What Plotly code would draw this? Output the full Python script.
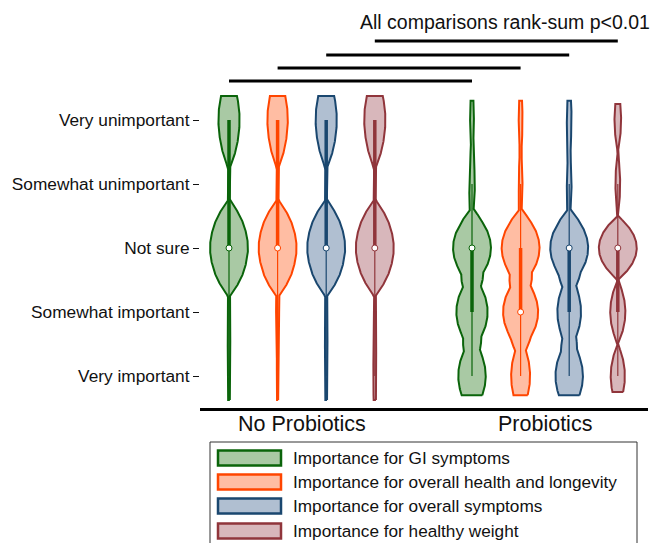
import numpy as np
import plotly.graph_objects as go

# ---------------- data ----------------
levels = [1, 2, 3, 4, 5]
level_labels = ["Very important", "Somewhat important", "Not sure",
                "Somewhat unimportant", "Very unimportant"]
groups = ["No Probiotics", "Probiotics"]
series = ["Importance for GI symptoms",
          "Importance for overall health and longevity",
          "Importance for overall symptoms",
          "Importance for healthy weight"]

# relative response counts per level (Very important .. Very unimportant)
no_gi = [3, 3, 50, 2, 28]
no_health = [2, 4, 50, 2, 27]
no_symptoms = [3, 3, 50, 2, 28]
no_weight = [4, 2, 50, 2, 28]
pro_gi = [29, 33, 40, 6, 4]
pro_health = [20, 37, 40, 4, 4]
pro_symptoms = [29, 25, 40, 5, 5]
pro_weight = [15, 16, 40, 5, 7]

# kernel half-widths (in level units) per violin
bandwidth_no = [0.75, 0.75, 0.75, 0.75]
bandwidth_pro = [0.6, 0.6, 0.6, 0.5]

# box statistics shown in the picture
median_no = [3, 3, 3, 3]
q1_no = [3, 3, 3, 3]
q3_no = [5, 5, 5, 5]
whisk_lo_no = [1, 1, 1, 1]
whisk_hi_no = [5, 5, 5, 5]
median_pro = [3, 2, 3, 3]
q1_pro = [2, 2, 2, 2]
q3_pro = [3, 3, 3, 3]
whisk_lo_pro = [1, 1, 1, 1]
whisk_hi_pro = [4, 4, 4, 4]

# ---------------- styles ----------------
line_colors = ["#0a640a", "#ff4500", "#1a476f", "#90353b"]
fill_colors = ["#a9c9a4", "#ffbda3", "#b0bfd1", "#d8b7bb"]
FONT = "Liberation Sans, Arial, sans-serif"
MAX_HALF = 0.39

group_counts = [[no_gi, no_health, no_symptoms, no_weight],
                [pro_gi, pro_health, pro_symptoms, pro_weight]]
group_bw = [bandwidth_no, bandwidth_pro]
group_stats = [(median_no, q1_no, q3_no, whisk_lo_no, whisk_hi_no),
               (median_pro, q1_pro, q3_pro, whisk_lo_pro, whisk_hi_pro)]


def epan(u):
    return np.where(np.abs(u) < 1, 0.75 * (1 - u ** 2), 0.0)


fig = go.Figure()
positions = {}
for g in range(2):
    for s in range(4):
        pos = g * 5 + s + 1
        positions[(g, s)] = pos
        c = np.array(group_counts[g][s], float)
        h = group_bw[g][s]
        lv = np.array(levels, float)
        yy = np.linspace(lv.min() - h / 2, lv.max() + h / 2, 600)
        dens = np.zeros_like(yy)
        for k, ck in zip(lv, c):
            dens += ck * epan((yy - k) / h) / h
        w = dens / dens.max() * MAX_HALF
        xs = np.concatenate([pos + w, (pos - w)[::-1], [pos + w[0]]])
        ys = np.concatenate([yy, yy[::-1], [yy[0]]])
        fig.add_trace(go.Scatter(x=xs, y=ys, mode="lines", fill="toself",
                                 fillcolor=fill_colors[s],
                                 line=dict(color=line_colors[s], width=2),
                                 showlegend=False, hoverinfo="skip"))
        med, q1, q3, wl, wh = [a[s] for a in group_stats[g]]
        fig.add_trace(go.Scatter(x=[pos, pos], y=[wl, wh], mode="lines",
                                 line=dict(color=line_colors[s], width=1.2),
                                 showlegend=False, hoverinfo="skip"))
        fig.add_trace(go.Scatter(x=[pos, pos], y=[q1, q3], mode="lines",
                                 line=dict(color=line_colors[s], width=3.5),
                                 showlegend=False, hoverinfo="skip"))
        fig.add_trace(go.Scatter(x=[pos], y=[med], mode="markers",
                                 marker=dict(symbol="circle", size=6, color="white",
                                             line=dict(color=line_colors[s], width=1)),
                                 showlegend=False, hoverinfo="skip"))

# ---------------- layout helpers (pixel -> paper) ----------------
L, R, T, B = 200, 648, 10, 408


def px_x(p):
    return (p - L) / (R - L)


def px_y(p):
    return (B - p) / (B - T)


# comparison bars (series s: No vs Pro), data x, pixel y
bar_rows_px = [81, 68, 55, 41]
shapes = []
for s in range(4):
    shapes.append(dict(type="line", xref="x", yref="paper",
                       x0=positions[(0, s)], x1=positions[(1, s)],
                       y0=px_y(bar_rows_px[s]), y1=px_y(bar_rows_px[s]),
                       line=dict(color="black", width=3)))

annotations = [dict(text="All comparisons rank-sum p<0.01", xref="paper", yref="paper",
                    x=px_x(505), y=px_y(22), showarrow=False,
                    font=dict(family=FONT, size=19.5, color="#111"),
                    xanchor="center", yanchor="middle")]

# group labels under the axis
for g in range(2):
    annotations.append(dict(text=groups[g], xref="x", yref="paper",
                            x=(positions[(g, 0)] + positions[(g, 3)]) / 2,
                            y=px_y(424), showarrow=False,
                            xanchor="center", yanchor="middle",
                            font=dict(family=FONT, size=21.5, color="#111")))

# legend (drawn)
shapes.append(dict(type="rect", xref="paper", yref="paper",
                   x0=px_x(210), x1=px_x(637), y0=px_y(442), y1=px_y(560),
                   line=dict(color="#333", width=1), fillcolor="rgba(0,0,0,0)"))
row_px = [458, 482, 506, 531]
for s in range(4):
    shapes.append(dict(type="rect", xref="paper", yref="paper",
                       x0=px_x(218), x1=px_x(281),
                       y0=px_y(row_px[s] - 7.5), y1=px_y(row_px[s] + 7.5),
                       line=dict(color=line_colors[s], width=2.5),
                       fillcolor=fill_colors[s]))
    annotations.append(dict(text=series[s], xref="paper", yref="paper",
                            x=px_x(291), y=px_y(row_px[s]), showarrow=False,
                            xanchor="left", yanchor="middle",
                            font=dict(family=FONT, size=17.2, color="#111")))

PXU = 48.6
fig.update_layout(
    width=656, height=543,
    margin=dict(l=L, r=656 - R, t=T, b=543 - B),
    paper_bgcolor="white", plot_bgcolor="white",
    showlegend=False,
    shapes=shapes, annotations=annotations,
    xaxis=dict(range=[(L - 180.4) / PXU, (R - 180.4) / PXU],
               showticklabels=False, ticks="",
               showline=True, linewidth=3, linecolor="black",
               showgrid=False, zeroline=False, fixedrange=True),
    yaxis=dict(range=[0.5, 1 + (376 - T) / 64.0],
               tickvals=levels, ticktext=level_labels,
               ticks="outside", ticklen=6, tickwidth=1, tickcolor="#111",
               tickfont=dict(family=FONT, size=17.3, color="#111"),
               showline=False, showgrid=False, zeroline=False, fixedrange=True),
)

fig.write_html("out.html", config={"displayModeBar": False},
               post_script="document.body.style.margin='0';document.body.style.overflow='hidden';")
